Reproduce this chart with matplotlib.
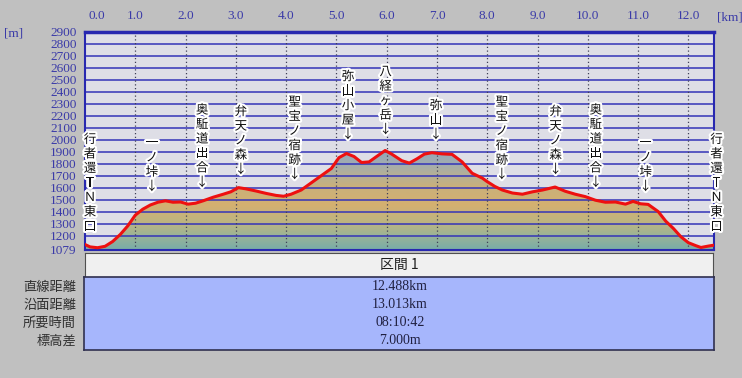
import numpy as np
import matplotlib
matplotlib.use("Agg")
import matplotlib.pyplot as plt
from matplotlib.colors import LinearSegmentedColormap
from matplotlib.patches import Polygon, Rectangle
from matplotlib.transforms import ScaledTranslation
import matplotlib.patheffects as pe

# profile: distance [km] and elevation [m]
dist_km = [0.00, 0.10, 0.25, 0.40, 0.55, 0.70, 0.85, 1.00, 1.15, 1.30, 1.45, 1.60,
           1.75, 1.90, 2.05, 2.20, 2.35, 2.55, 2.75, 2.90, 3.05, 3.20, 3.40, 3.60,
           3.80, 3.95, 4.10, 4.30, 4.50, 4.70, 4.90, 5.05, 5.20, 5.35, 5.50, 5.65,
           5.80, 5.97, 6.10, 6.30, 6.45, 6.60, 6.75, 6.90, 7.10, 7.30, 7.50, 7.70,
           7.90, 8.00, 8.15, 8.30, 8.50, 8.70, 8.90, 9.10, 9.35, 9.55, 9.75, 9.95,
           10.15, 10.35, 10.55, 10.75, 10.90, 11.05, 11.20, 11.40, 11.55, 11.70,
           11.85, 12.00, 12.15, 12.25, 12.40, 12.49]
elev_m = [1125, 1105, 1098, 1110, 1150, 1208, 1280, 1370, 1420, 1455, 1478, 1490,
          1478, 1480, 1462, 1470, 1490, 1520, 1545, 1565, 1600, 1590, 1572, 1552,
          1535, 1528, 1545, 1580, 1640, 1700, 1760, 1850, 1885, 1860, 1810, 1815,
          1860, 1910, 1880, 1825, 1805, 1840, 1880, 1892, 1882, 1878, 1815, 1720,
          1680, 1650, 1610, 1580, 1555, 1545, 1565, 1580, 1605, 1570, 1545, 1525,
          1495, 1478, 1480, 1462, 1485, 1465, 1460, 1400, 1320, 1260,
          1190, 1140, 1115, 1100, 1112, 1118]

# waypoints: name, km, elevation of the arrow
wp_names = ["一ノ垰", "奥駈道出合", "弁天ノ森", "聖宝ノ宿跡", "弥山小屋", "八経ヶ岳", "弥山",
            "聖宝ノ宿跡", "弁天ノ森", "奥駈道出合", "一ノ垰"]
wp_km = [1.33, 2.33, 3.10, 4.17, 5.23, 5.98, 6.98, 8.29, 9.36, 10.16, 11.15]
wp_arrow_m = [1608, 1642, 1750, 1708, 2042, 2083, 2042, 1708, 1750, 1642, 1608]

end_name = "行者還ＴＮ東口"
end_km = [0.10, 12.56]
end_bottom_m = [1275, 1275]

y_ticks = [1079] + list(range(1200, 3000, 100))
x_ticks = list(range(0, 13))

row_labels = ["直線距離", "沿面距離", "所要時間", "標高差"]
row_values = ["12.488km", "13.013km", "08:10:42", "7.000m"]
section_name = "区間 1"

JP = ["Noto Sans CJK JP", "DejaVu Sans"]
SERIF = "Liberation Serif"
TICK_C = "#3a3aa8"

fig = plt.figure(figsize=(7.42, 3.78), dpi=100)
fig.patch.set_facecolor("#c0c0c0")
ax = fig.add_axes([85 / 742, 128 / 378, 629 / 742, 218 / 378])
ax.set_facecolor("#dedee6")
xmax = 12.51
ax.set_xlim(0, xmax)
ax.set_ylim(1079, 2900)

# gradient fill under the profile
stops = [(1079, "#78aca8"), (1200, "#9cb496"), (1300, "#bcb482"), (1450, "#d4b070"),
         (1600, "#cab07a"), (1700, "#b6b094"), (1800, "#a2acb0"), (1900, "#94a8b8"),
         (2900, "#90a4bc")]
cmap = LinearSegmentedColormap.from_list(
    "elev", [((v - 1079) / (2900 - 1079), c) for v, c in stops])
grad = np.linspace(0, 1, 500).reshape(-1, 1)
im = ax.imshow(grad, extent=[0, xmax, 1079, 2900], origin="lower", aspect="auto",
               cmap=cmap, zorder=1)
poly = Polygon(np.column_stack([[dist_km[0]] + dist_km + [dist_km[-1]],
                                [1079] + elev_m + [1079]]),
               closed=True, facecolor="none", edgecolor="none")
ax.add_patch(poly)
im.set_clip_path(poly)

# grid
for yv in y_ticks[1:]:
    ax.axhline(yv, color="#3434b8", lw=1.1, zorder=2)
for xv in x_ticks[1:]:
    ax.axvline(xv, color="#404058", lw=0.9, ls=(0, (1, 2)), zorder=2)

ax.plot(dist_km, elev_m, color="#ee1010", lw=2.2, zorder=4)

for side, sp in ax.spines.items():
    sp.set_color("#2828b0")
    sp.set_linewidth(1.5)
ax.spines["top"].set_linewidth(2.5)

# ticks
ax.set_yticks(y_ticks)
ax.set_yticklabels([str(v) for v in y_ticks])
ax.xaxis.tick_top()
ax.set_xticks(x_ticks)
ax.set_xticklabels([f"{v:.1f}" for v in x_ticks])
ax.tick_params(axis="both", length=0, colors=TICK_C, labelsize=9.5)
ax.tick_params(axis="y", pad=6)
ax.tick_params(axis="x", pad=7)
for lab in ax.get_xticklabels() + ax.get_yticklabels():
    lab.set_fontfamily(SERIF)
first = ax.get_xticklabels()[0]
first.set_transform(first.get_transform() + ScaledTranslation(12 / 100, 0, fig.dpi_scale_trans))
fig.text(4 / 742, 1 - 33 / 378, "[m]", color=TICK_C, fontsize=9.5, family=SERIF,
         va="center", ha="left")
fig.text(717 / 742, 1 - 17 / 378, "[km]", color=TICK_C, fontsize=9.5, family=SERIF,
         va="center", ha="left")

# waypoint labels, one character per line
step_pt = 14.5 * 0.72
halo = [pe.withStroke(linewidth=3, foreground="white")]


def stack(chars, x, y):
    n = len(chars)
    for i, ch in enumerate(chars):
        ax.annotate(ch, xy=(x, y), xytext=(0, (n - 1 - i) * step_pt),
                    textcoords="offset points", ha="center", va="center",
                    fontsize=9, family=JP, color="#101010", zorder=6,
                    path_effects=halo, annotation_clip=False)


for name, k, a in zip(wp_names, wp_km, wp_arrow_m):
    stack(list(name) + ["↓"], k, a)
for k, b in zip(end_km, end_bottom_m):
    stack(list(end_name), k, b)

# summary table
hdr = fig.add_axes([85 / 742, 101 / 378, 628 / 742, 24 / 378])
hdr.set_facecolor("#f0f0f0")
hdr.set_xticks([])
hdr.set_yticks([])
for sp in hdr.spines.values():
    sp.set_color("#505050")
hdr.text(0.5, 0.5, section_name, ha="center", va="center", fontsize=10,
         family=JP, color="#202020", transform=hdr.transAxes)

body = fig.add_axes([84 / 742, 28 / 378, 630 / 742, 73 / 378])
body.set_facecolor("#a6b6fc")
body.set_xticks([])
body.set_yticks([])
for sp in body.spines.values():
    sp.set_color("#303050")
    sp.set_linewidth(1.2)
row_y = [287, 305, 323, 341]
for lab, val, yp in zip(row_labels, row_values, row_y):
    fig.text(76 / 742, 1 - yp / 378, lab, ha="right", va="center", fontsize=9.5,
             family=JP, color="#303030")
    fig.text(400 / 742, 1 - yp / 378, val, ha="center", va="center", fontsize=10,
             family=SERIF, color="#202040")

fig.savefig("out.png", dpi=100, facecolor=fig.get_facecolor())
